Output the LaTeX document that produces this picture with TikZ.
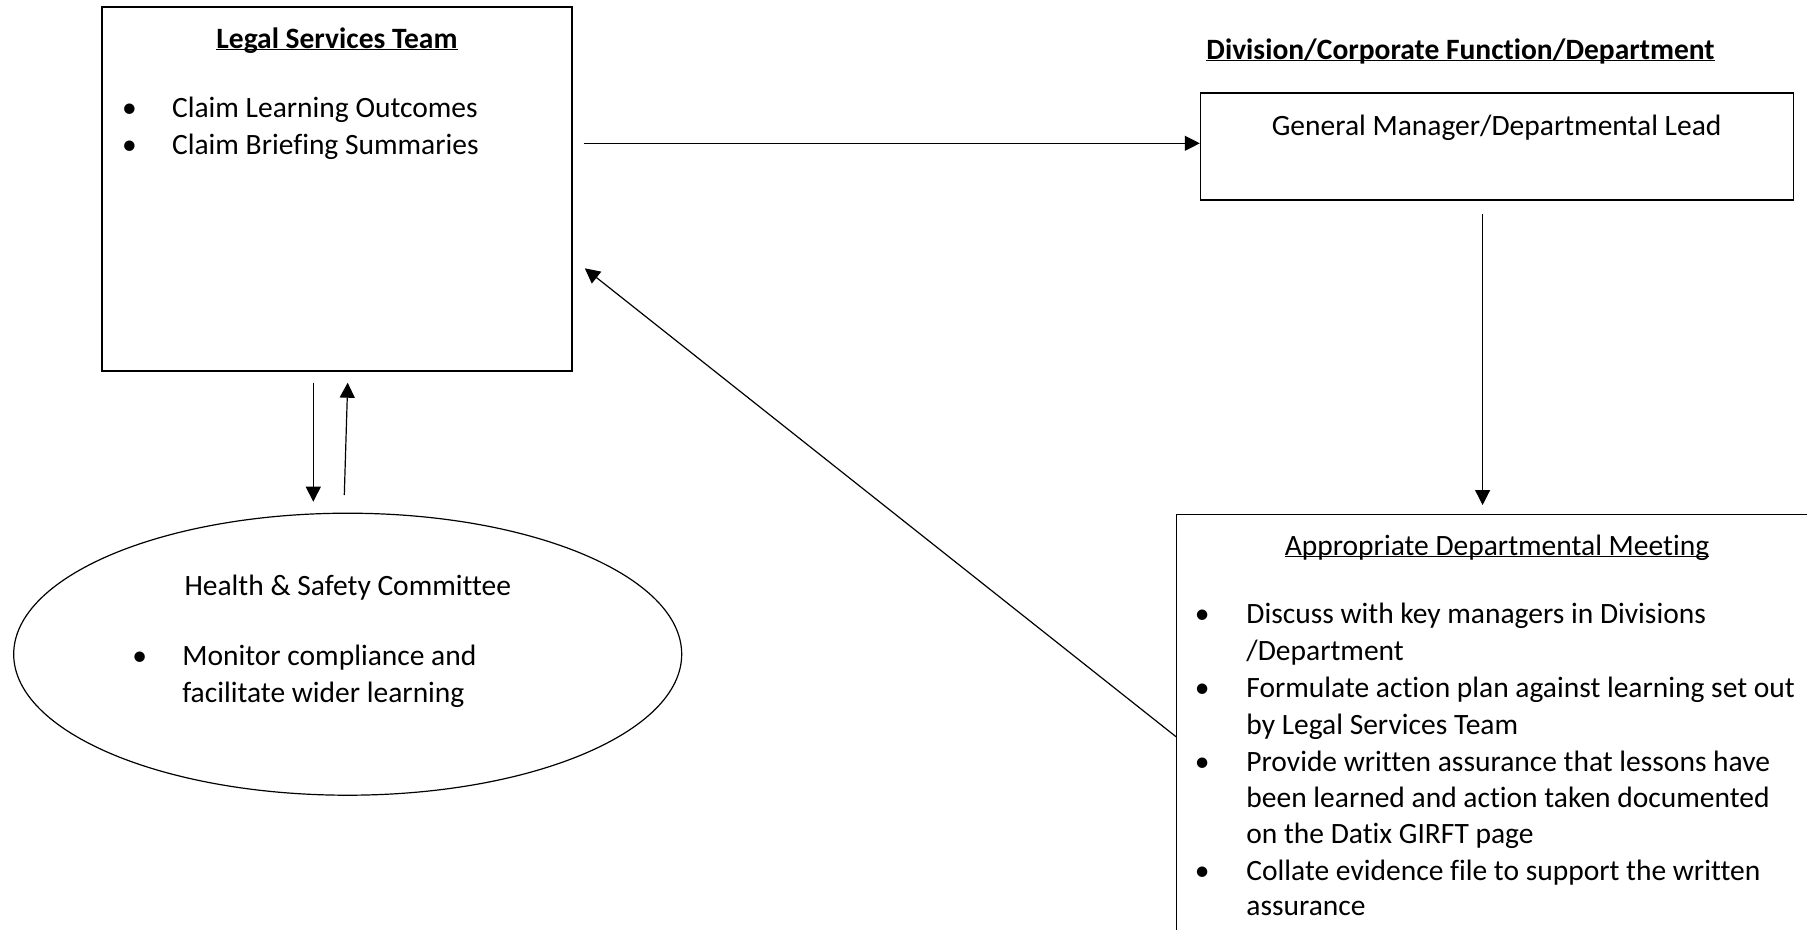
\documentclass[tikz,border=0pt]{standalone}
\usepackage{fontspec}
\setmainfont{Carlito}[Ligatures=NoCommon]
\usetikzlibrary{arrows.meta,shapes.geometric}

\begin{document}
\begin{tikzpicture}[
  x=1pt, y=-1pt,
  every node/.style={inner sep=0pt, font=\fontsize{29.5}{36}\selectfont},
  boxnode/.style={draw, line width=1.4pt, rectangle},
  ovalnode/.style={draw, line width=1.2pt, ellipse},
  textline/.style={anchor=base west},
  headline/.style={anchor=base},
  bulletdot/.style={anchor=base},
  flowarrow/.style={line width=1.2pt, -{Triangle[length=15pt,width=15pt]}}
]
  \useasboundingbox
    (0,0)
    rectangle
    (1807,929);

  % boxes
  \node[boxnode, minimum width=470pt, minimum height=364pt]
    (legal) at (337,189) {};
  \node[boxnode, minimum width=593pt, minimum height=107pt]
    (gm) at (1497,146.6) {};
  \node[boxnode, anchor=north west, minimum width=700pt, minimum height=500pt]
    (meeting) at (1176,513.5) {};
  \node[ovalnode, minimum width=668pt, minimum height=282pt]
    (hsc) at (347.7,654.2) {};

  % legal services team
  \node[headline] (legaltitle) at (337,48)
    {\bfseries\underline{\smash{Legal Services Team}}};
  \node[bulletdot] (legaldotA) at (129.5,117) {\textbullet};
  \node[textline] (legalA) at (171.9,117) {Claim Learning Outcomes};
  \node[bulletdot] (legaldotB) at (129.5,154) {\textbullet};
  \node[textline] (legalB) at (171.9,154) {Claim Briefing Summaries};

  % division
  \node[headline] (divtitle) at (1460.5,59)
    {\bfseries\underline{\smash{Division/Corporate Function/Department}}};
  \node[headline] (gmtitle) at (1496.6,135)
    {General Manager/Departmental Lead};

  % departmental meeting
  \node[headline] (meettitle) at (1497,555)
    {\underline{\smash{Appropriate Departmental Meeting}}};
  \node[bulletdot] (meetdotA) at (1202.3,623.5) {\textbullet};
  \node[textline] (meetA) at (1246.2,623.5) {Discuss with key managers in Divisions};
  \node[textline] (meetAb) at (1246.2,660) {/Department};
  \node[bulletdot] (meetdotB) at (1202.3,697.5) {\textbullet};
  \node[textline] (meetB) at (1246.2,697.5) {Formulate action plan against learning set out};
  \node[textline] (meetBb) at (1246.2,734) {by Legal Services Team};
  \node[bulletdot] (meetdotC) at (1202.3,771) {\textbullet};
  \node[textline] (meetC) at (1246.2,771) {Provide written assurance that lessons have};
  \node[textline] (meetCb) at (1246.2,807.5) {been learned and action taken documented};
  \node[textline] (meetCc) at (1246.2,843.5) {on the Datix GIRFT page};
  \node[bulletdot] (meetdotD) at (1202.3,880) {\textbullet};
  \node[textline] (meetD) at (1246.2,880) {Collate evidence file to support the written};
  \node[textline] (meetDb) at (1246.2,915) {assurance};

  % health and safety committee
  \node[headline] (hsctitle) at (347.8,595.5) {Health \& Safety Committee};
  \node[bulletdot] (hscdot) at (139.7,665.5) {\textbullet};
  \node[textline] (hscA) at (182.1,665.5) {Monitor compliance and};
  \node[textline] (hscAb) at (182.1,702.5) {facilitate wider learning};

  % arrow ends
  \coordinate (legalout) at (583.5,143.3);
  \coordinate (gmout) at (1482.6,214.3);
  \coordinate (meetin) at (1482.6,505);
  \coordinate (legaldown) at (313.3,382.7);
  \coordinate (hscin) at (313.3,501.7);
  \coordinate (hscout) at (344.3,495);
  \coordinate (legalup) at (347.7,382.7);
  \coordinate (meetout) at (1176,736.7);
  \coordinate (legalback) at (584.8,268.3);

  \draw[flowarrow]
    (legalout)
    --
    (legalout -| gm.west);
  \draw[flowarrow]
    (gmout)
    --
    (meetin);
  \draw[flowarrow]
    (legaldown)
    --
    (hscin);
  \draw[flowarrow]
    (hscout)
    --
    (legalup);
  \draw[flowarrow]
    (meetout)
    --
    (legalback);
\end{tikzpicture}
\end{document}
